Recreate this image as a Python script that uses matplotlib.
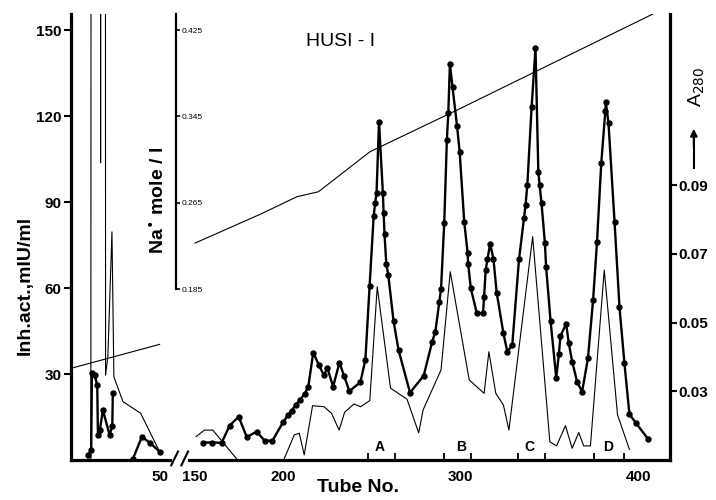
import numpy as np
import matplotlib.pyplot as plt

plt.rcParams["font.family"] = ["Liberation Sans", "DejaVu Sans"]

# inhibitory activity (mIU/ml) - thick line with dots
inh_tube_early = [9.8, 11.4, 11.8, 13.3, 14.8, 15.2, 16.3, 18.0, 21.8, 23.3, 23.6]
inh_early = [1.7, 3.5, 30.2, 29.6, 26.2, 8.7, 10.5, 17.4, 8.7, 12.0, 23.3]

inh_tube_tail = [35.0, 40.0, 44.5, 50.0]
inh_tail = [0.5, 8.1, 6.0, 2.9]

inh_tube = [154.5, 159.5, 165.0, 169.5, 174.6, 179.2, 184.7, 189.2, 193.6, 199.6,
            202.4, 204.5, 206.9, 209.2, 211.8, 213.9, 216.7, 219.8, 222.6, 224.7,
            227.9, 231.5, 234.1, 237.1, 243.3, 246.1, 248.5, 250.8, 251.6, 252.4,
            253.8, 256.0, 256.4, 256.9, 257.9, 259.0, 262.0, 264.8, 271.3, 279.0,
            283.7, 285.6, 287.8, 288.8, 290.6, 292.1, 292.9, 293.8, 295.3, 297.8,
            299.3, 301.9, 303.8, 304.1, 305.6, 309.0, 312.5, 313.1, 314.0, 315.0,
            316.5, 318.4, 320.2, 324.0, 326.2, 329.0, 332.8, 335.6, 336.5, 337.5,
            339.9, 342.1, 343.7, 344.4, 345.5, 347.4, 348.1, 350.6, 353.8, 355.3,
            356.2, 359.4, 360.9, 362.8, 365.6, 368.4, 371.7, 374.6, 376.8, 379.2,
            381.5, 381.8, 383.3, 386.7, 389.5, 392.3, 395.1, 398.9, 405.8]
inh = [6.1, 6.1, 6.0, 12.0, 15.1, 8.0, 9.9, 6.8, 6.7, 13.1,
       15.6, 17.2, 19.3, 21.0, 23.0, 25.6, 37.5, 33.2, 29.7, 32.0,
       25.6, 34.0, 29.3, 24.0, 27.2, 34.9, 60.8, 85.2, 89.6, 93.0,
       118.0, 93.0, 86.3, 79.0, 68.5, 64.7, 48.5, 38.4, 23.5, 29.4,
       41.0, 44.8, 55.0, 59.7, 82.6, 111.7, 121.0, 138.1, 130.0, 116.7,
       107.6, 83.0, 72.3, 68.4, 59.9, 51.2, 51.2, 57.0, 66.3, 70.0,
       75.5, 70.0, 58.4, 44.2, 37.8, 40.1, 70.0, 84.3, 89.0, 96.0,
       123.0, 143.7, 100.6, 96.0, 89.6, 75.8, 67.2, 48.6, 28.7, 37.0,
       43.3, 47.5, 40.7, 34.3, 27.3, 23.8, 35.5, 55.8, 76.0, 103.5,
       121.6, 124.8, 117.5, 83.2, 53.3, 33.7, 16.0, 12.8, 7.2]

# absorbance at 280 nm - thin line
a280_tube_early = [8.0, 11.2, 11.5, 16.4, 16.7, 17.0, 19.3, 19.5, 20.8, 23.1,
                   24.2, 29.3, 39.3, 50.0]
a280_early = [0.010, 0.010, 0.50, 0.50, 0.0965, 0.50, 0.50, 0.0347, 0.0401, 0.0764,
              0.0342, 0.0270, 0.0236, 0.0124]

a280_tube = [150.6, 155.3, 160.0, 174.0, 200.0, 206.0, 208.8, 211.6, 216.3, 222.8,
             227.0, 231.3, 234.4, 239.7, 243.4, 248.6, 252.8, 260.3, 269.6, 276.2,
             278.7, 288.8, 294.0, 304.7, 313.1, 315.8, 319.7, 324.0, 327.1, 340.5,
             350.2, 354.0, 359.0, 362.8, 366.5, 369.3, 373.1, 380.9, 388.4, 395.1]
a280 = [0.0168, 0.0187, 0.0187, 0.0100, 0.0100, 0.0173, 0.0178, 0.0115, 0.0258, 0.0255,
        0.0236, 0.0187, 0.0239, 0.0263, 0.0255, 0.0273, 0.0604, 0.0309, 0.0277, 0.0179,
        0.0246, 0.0362, 0.0648, 0.0333, 0.0294, 0.0415, 0.0294, 0.0260, 0.0187, 0.0750,
        0.0153, 0.0141, 0.0200, 0.0134, 0.0180, 0.0141, 0.0141, 0.0653, 0.0231, 0.0131]

# Na+ gradient (mole/l)
na_tube_early = [0.0, 50.0]
na_early = [0.1115, 0.1337]
na_tube = [150.0, 187.0, 207.5, 219.6, 248.7, 299.8, 409.7]
na = [0.2276, 0.2545, 0.2706, 0.2752, 0.3123, 0.3525, 0.4411]

# pooled fractions
pool_edges = [247.6, 262.6, 290.6, 305.6, 332.2, 347.2, 374.9, 391.8]
peak_names = ["A", "B", "C", "D"]
peak_tubes = [254.4, 300.0, 338.5, 383.0]


def to_axis(t):
    t = np.asarray(t, dtype=float)
    return np.where(t <= 55, t, np.where(t >= 150, t - 80, 55 + (t - 55) * 15 / 95))


def from_axis(p):
    p = np.asarray(p, dtype=float)
    return np.where(p <= 55, p, np.where(p >= 70, p + 80, 55 + (p - 55) * 95 / 15))


fig = plt.figure(figsize=(7.16, 5.0), dpi=100)
ax = fig.add_axes([71 / 716, 40 / 500, 599 / 716, 446 / 500])
ax.set_xscale("function", functions=(to_axis, from_axis))
ax_a = ax.twinx()
ax_na = ax.twinx()

# inhibitory activity
dots = dict(color="black", lw=1.7, marker="o", ms=3.6)
ax.plot(inh_tube_early, inh_early, **dots)
ax.plot(inh_tube_tail, inh_tail, **dots)
ax.plot(inh_tube, inh, **dots)
ax.set_xlim(0, 418)
ax.set_ylim(0, 155.6)
ax.set_yticks([30, 60, 90, 120, 150])
ax.set_xticks([50, 150, 200, 300, 400])
ax.set_xticklabels(["50", "150", "200", "300", "400"])
ax.set_xticks(pool_edges, minor=True)
ax.tick_params(axis="y", direction="out", length=5, width=1.5, pad=2,
               labelsize=11)
ax.tick_params(axis="x", which="major", length=0, pad=7, labelsize=11)
ax.tick_params(axis="x", which="minor", direction="in", length=5, width=1.3)
for lab in ax.get_xticklabels() + ax.get_yticklabels():
    lab.set_fontweight("bold")
ax.spines["top"].set_visible(False)
ax.spines["right"].set_visible(False)
ax.spines["left"].set_linewidth(2.3)
ax.spines["bottom"].set_linewidth(2.3)

# broken axis marks
xt = ax.get_xaxis_transform()
ax.plot([79, 111], [0, 0], transform=xt, color="white", lw=5,
        clip_on=False, zorder=5)
ax.plot([65, 89], [-0.012, 0.019], transform=xt, color="black", lw=1.5,
        clip_on=False, zorder=6)
ax.plot([101, 125], [-0.012, 0.019], transform=xt, color="black", lw=1.5,
        clip_on=False, zorder=6)

for name, t in zip(peak_names, peak_tubes):
    ax.text(t, 0.03, name, transform=xt, ha="center", va="center",
            fontsize=10, fontweight="bold")

# absorbance
ax_a.plot(a280_tube_early, a280_early, color="black", lw=0.8)
ax_a.plot(a280_tube, a280, color="black", lw=0.8)
ax_a.set_ylim(0.01, 0.1398)
ax_a.set_yticks([0.03, 0.05, 0.07, 0.09])
ax_a.set_yticklabels(["0.03", "0.05", "0.07", "0.09"])
ax_a.tick_params(axis="y", direction="out", length=5, width=1.5, pad=1,
                 labelsize=11)
for lab in ax_a.get_yticklabels():
    lab.set_fontweight("bold")
for side in ["top", "left", "bottom"]:
    ax_a.spines[side].set_visible(False)
ax_a.spines["right"].set_linewidth(2.3)

# salt gradient
ax_na.plot(na_tube_early, na_early, color="black", lw=0.8)
ax_na.plot(na_tube, na, color="black", lw=0.8)
ax_na.set_ylim(0.0265, 0.44)
ax_na.set_yticks([0.185, 0.265, 0.345, 0.425])
ax_na.set_yticklabels(["0.185", "0.265", "0.345", "0.425"])
ax_na.tick_params(axis="y", direction="out", length=3, width=1.2, pad=1,
                  labelsize=6)
for side in ["top", "left", "bottom"]:
    ax_na.spines[side].set_visible(False)
ax_na.spines["right"].set_position(("axes", 105 / 599))
ax_na.spines["right"].set_bounds(0.185, 0.44)
ax_na.spines["right"].set_linewidth(1.6)

fig.text(0.035, 0.43, "Inh.act.,mIU/ml", rotation=90, ha="center",
         va="center", fontsize=14, fontweight="bold")
fig.text(0.5, 0.024, "Tube No.", ha="center", va="center", fontsize=14,
         fontweight="bold")
fig.text(0.2207, 0.6, r"Na$^{\bullet}$ mole / l", rotation=90, ha="center",
         va="center", fontsize=14, fontweight="bold")
fig.text(0.475, 0.916, "HUSI - I", ha="center", va="center", fontsize=14)
fig.text(0.973, 0.826, r"A$_{280}$", rotation=90, ha="center", va="center",
         fontsize=14)
fig.add_artist(plt.Line2D([0.969, 0.969], [0.664, 0.735], color="black",
                          lw=1.5, transform=fig.transFigure))
ax.annotate("", xy=(0.969, 0.748), xytext=(0.969, 0.70),
            xycoords="figure fraction", textcoords="figure fraction",
            arrowprops=dict(arrowstyle="-|>", color="black", lw=1.5))

fig.savefig("out.png", dpi=100)
